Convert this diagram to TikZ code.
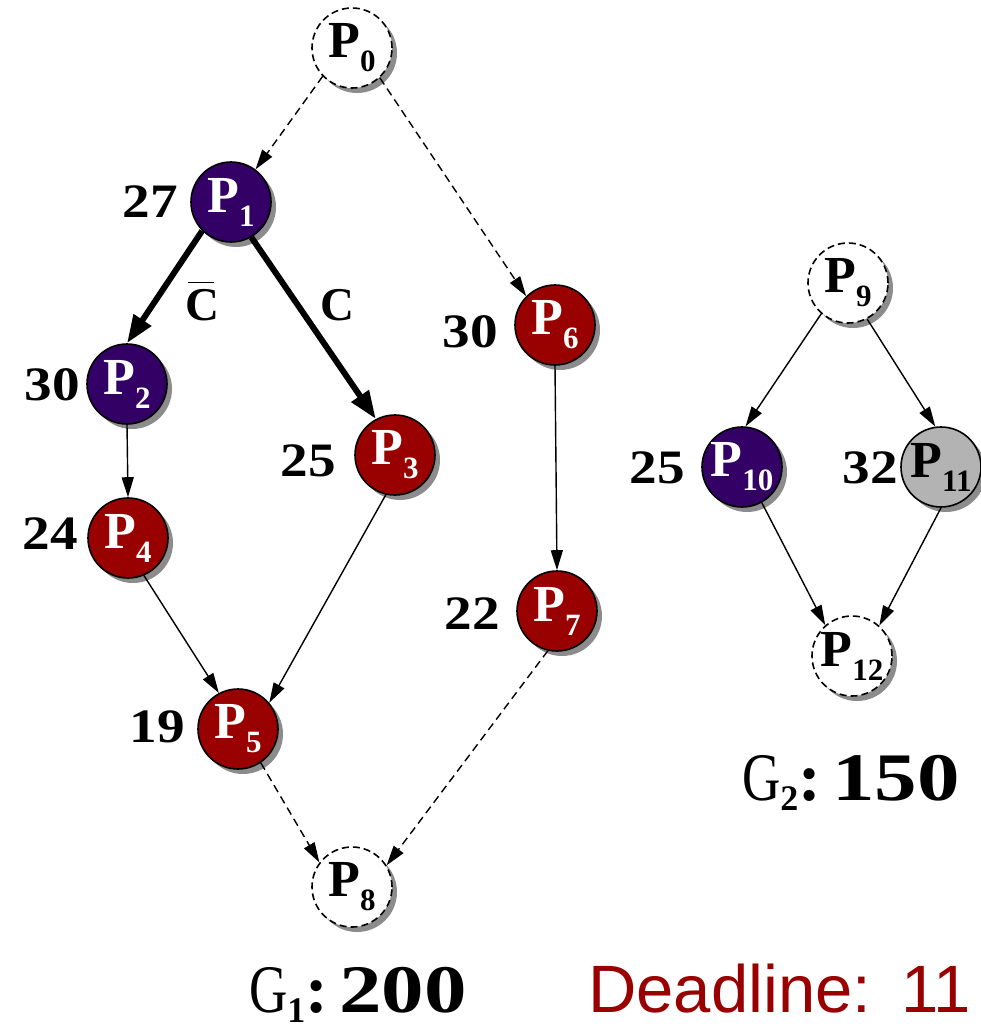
\documentclass[tikz,border=0pt]{standalone}
\usepackage{fontspec}
\setmainfont{Liberation Serif}
\newfontfamily\dlfont{Liberation Sans}
\usetikzlibrary{arrows.meta,shadows}
\definecolor{purp}{HTML}{330066}
\definecolor{dred}{HTML}{990000}
\definecolor{lgray}{HTML}{B3B3B3}
\newcommand\pname[1]{P\raisebox{-14pt}{\fontsize{31}{31}\selectfont #1}}
\newcommand\wnum[1]{\scalebox{1.15}[1]{#1}}
\newcommand\glab[2]{\scalebox{0.78}[1]{\mdseries G}\raisebox{-10pt}{\fontsize{36}{36}\selectfont #1}:\,\scalebox{1.25}[1]{#2}}
\begin{document}
\begin{tikzpicture}[x=1pt,y=-1pt,
  pnode/.style={circle, draw=black, line width=1.6pt, minimum size=80pt, inner sep=0pt,
    font=\fontsize{52}{52}\selectfont\bfseries,
    drop shadow={shadow xshift=5pt, shadow yshift=-5pt, fill=black!45, opacity=1}},
  purpn/.style={pnode, fill=purp, text=white},
  redn/.style={pnode, fill=dred, text=white},
  grayn/.style={pnode, fill=lgray, text=black},
  dashn/.style={pnode, fill=white, dash pattern=on 7pt off 4pt, text=black},
  wt/.style={font=\fontsize{48}{48}\selectfont\bfseries, inner sep=0pt},
  clab/.style={font=\fontsize{47}{47}\selectfont\bfseries, inner sep=0pt, anchor=base},
  glabel/.style={font=\fontsize{68}{68}\selectfont\bfseries, inner sep=0pt, anchor=base},
  thinarr/.style={-{Triangle[length=20pt,width=12pt]}, line width=1.4pt},
  thickarr/.style={-{Triangle[length=28pt,width=20pt]}, line width=6pt},
  dasharr/.style={-{Triangle[length=20pt,width=12pt]}, line width=1.4pt, dash pattern=on 8pt off 5pt}
]
\useasboundingbox (0,0) rectangle (981,1028);
\fill[white] (0,0) rectangle (981,1028);

% graph G1
\node[dashn] (P0) at (352,48) {\pname{0}};
\node[purpn] (P1) at (231,202) {\pname{1}};
\node[purpn] (P2) at (127,384) {\pname{2}};
\node[redn] (P3) at (395,455) {\pname{3}};
\node[redn] (P4) at (128,538) {\pname{4}};
\node[redn] (P5) at (238,729) {\pname{5}};
\node[redn] (P6) at (555,325) {\pname{6}};
\node[redn] (P7) at (557,611) {\pname{7}};
\node[dashn] (P8) at (352,887) {\pname{8}};

% graph G2
\node[dashn] (P9) at (848,283) {\pname{9}};
\node[purpn] (P10) at (742,467) {\pname{10}};
\node[grayn] (P11) at (941,467) {\pname{11}};
\node[dashn] (P12) at (852,656) {\pname{12}};

% weights
\node[wt] (w1) at (150,202) {\wnum{27}};
\node[wt] (w2) at (52,385) {\wnum{30}};
\node[wt] (w3) at (308,461) {\wnum{25}};
\node[wt] (w4) at (50,534) {\wnum{24}};
\node[wt] (w5) at (157,727) {\wnum{19}};
\node[wt] (w6) at (470,332) {\wnum{30}};
\node[wt] (w7) at (472,614) {\wnum{22}};
\node[wt] (w10) at (657,468) {\wnum{25}};
\node[wt] (w11) at (870,468) {\wnum{32}};

% condition labels
\node[clab] (cbar) at (202,320) {\makebox[0pt][l]{\hspace{0.06em}\raisebox{0.78em}{\rule{0.56em}{1.8pt}}}C};
\node[clab] (c) at (337,320) {C};

% edges
\draw[dasharr] (P0.224) -- (P1.53);
\draw[dasharr] (P0.313) -- (P6.135);
\draw[thickarr] (P1.225) -- (P2.north);
\draw[thickarr] (P1.-60) -- (P3.118);
\draw[thinarr] (P2.south) -- (P4.north);
\draw[thinarr] (P4.-67) -- (P5.118);
\draw[thinarr] (P3.257) -- (P5.40);
\draw[thinarr] (P6.south) -- (P7.north);
\draw[dasharr] (P5.304) -- (P8.143);
\draw[dasharr] (P7.257) -- (P8.32);
\draw[thinarr] (P9.229) -- (P10.85);
\draw[thinarr] (P9.298) -- (P11.98);
\draw[thinarr] (P10.299) -- (P12.131);
\draw[thinarr] (P11.270) -- (P12.48);

% totals
\node[glabel] (g1) at (358,1012) {\glab{1}{200}};
\node[glabel] (g2) at (851,800) {\glab{2}{150}};
\node[font=\fontsize{67}{67}\dlfont, text=dred, anchor=base west, inner sep=0pt] (dl) at (588,1012) {Deadline:\hspace{0.45em}11};
\end{tikzpicture}
\end{document}
